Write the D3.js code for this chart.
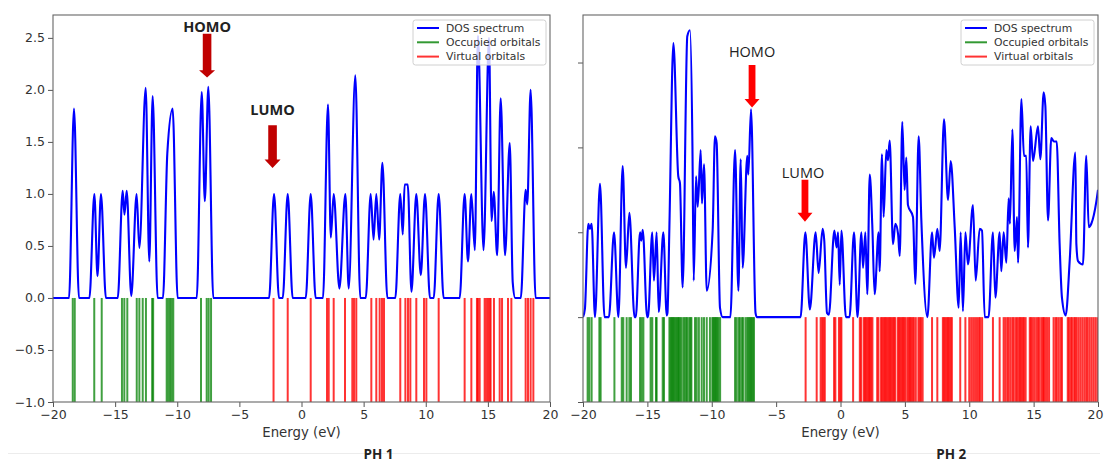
<!DOCTYPE html>
<html>
<head>
<meta charset="utf-8">
<script src="https://cdn.jsdelivr.net/npm/d3@7"></script>
<style>
body { margin: 0; background: #fff; }
svg { display: block; }
.tick text { font-family: "DejaVu Sans", sans-serif; font-size: 12.5px; fill: #333; }
.tick line { stroke: #555; }
</style>
</head>
<body>
<div id="figure"></div>
<script>
// energies in eV, DOS in arbitrary units
var xTicks = [-20, -15, -10, -5, 0, 5, 10, 15, 20];
var ph1YTicks = [-1.0, -0.5, 0.0, 0.5, 1.0, 1.5, 2.0, 2.5];
var ph2YTicks = [-1, 0, 1, 2, 3];
var legendLabels = ["DOS spectrum", "Occupied orbitals", "Virtual orbitals"];
var panelTitles = ["PH 1", "PH 2"];

var ph1Dos = [
    [-20, 0], [-18.71, 0], [-18.31, 1.82], [-17.91, 0],
    [-17.07, 0], [-16.67, 1], [-16.42, 0.21], [-16.14, 1], [-15.74, 0],
    [-14.79, 0], [-14.39, 1.03], [-14.25, 0.8], [-14.07, 1.03], [-13.7, 0.02], [-13.27, 1],
    [-13.05, 0.48], [-12.54, 2.02], [-12.25, 0.35], [-11.98, 1.94], [-11.58, 0],
    [-11.15, 0], [-10.8, 1.39], [-10.37, 1.82], [-9.97, 0],
    [-8.43, 0], [-8.03, 1.98], [-7.78, 0.93], [-7.5, 2.03], [-7.1, 0],
    [-2.61, 0], [-2.21, 1], [-1.81, 0], [-1.51, 0], [-1.11, 1], [-0.71, 0],
    [0.34, 0], [0.74, 1], [1.14, 0],
    [1.73, 0], [2.13, 1.86], [2.36, 0.58], [2.59, 1], [3.05, 0.09], [3.53, 1], [3.8, 0.09],
    [4.33, 2.14], [4.73, 0],
    [5.17, 0], [5.57, 1], [5.8, 0.56], [6.02, 1], [6.25, 0.56], [6.51, 1.3], [6.91, 0],
    [7.55, 0], [7.95, 1], [8.15, 0.61], [8.3, 1.09], [8.55, 1.09], [8.85, 0.06], [9.24, 1],
    [9.6, 0.22], [9.94, 1], [10.34, 0],
    [10.64, 0], [11.04, 1], [11.44, 0],
    [12.73, 0], [13.13, 1], [13.4, 0.35], [13.67, 1], [13.95, 0.46], [14.2, 2.52], [14.65, 0.46],
    [15.09, 2.5], [15.3, 0.74], [15.47, 1.02], [15.75, 0.41], [16.03, 1.92], [16.38, 0.41],
    [16.76, 1.49], [17.0, 0.15], [17.2, 0],
    [17.65, 0], [18.04, 1.04], [18.17, 0.9], [18.44, 2.0], [18.84, 0], [20, 0]
];
var ph1Occupied = [-18.41, -18.25, -16.68, -16.08, -14.45, -14.26, -14.02, -13.26, -13.05,
    -12.78, -12.52, -12.02, -11.94, -10.85, -10.72, -10.58, -10.45, -10.32, -8.09, -7.63,
    -7.47, -7.28];
var ph1Virtual = [-2.25, -1.11, 0.74, 2.05, 2.19, 2.59, 3.5, 4.09, 4.23, 4.41, 5.62, 6.02,
    6.29, 6.48, 6.64, 7.95, 8.36, 8.57, 8.76, 9.24, 9.86, 10.05, 11.04, 13.13, 13.67, 14.12,
    14.2, 14.34, 14.74, 14.87, 15.01, 15.15, 15.22, 15.49, 15.95, 16.14, 16.62, 16.89, 18.04,
    18.23, 18.44, 18.66];

var ph2Dos = [
    [-20, 0], [-19.85, 0.1], [-19.59, 1.1], [-19.46, 1.04], [-19.33, 1.1], [-19.07, 0],
    [-18.68, 1.57], [-18.33, 0], [-17.99, 0], [-17.59, 1.0], [-17.25, 0],
    [-16.92, 1.78], [-16.66, 0.58], [-16.4, 1.23], [-16.0, 0], [-15.9, 0],
    [-15.57, 1.0], [-15.47, 0.9], [-15.36, 1.03], [-15.02, 0], [-14.95, 0],
    [-14.62, 1.0], [-14.49, 0.43], [-14.28, 1.0], [-14.12, 0.06], [-13.76, 1.0], [-13.5, 0.02],
    [-13.44, 0.05], [-13.29, 1.06], [-12.98, 3.23], [-12.6, 1.66], [-12.47, 1.58], [-12.26, 0.35],
    [-11.9, 3.31], [-11.69, 3.38], [-11.5, 2.01], [-11.4, 0.43], [-11.22, 1.66], [-11.09, 1.3],
    [-10.86, 1.97], [-10.76, 1.34], [-10.6, 1.8], [-10.39, 0.31], [-9.93, 1.02], [-9.75, 2.13],
    [-9.62, 2.05], [-9.36, 0.11], [-9.15, 0], [-8.55, 0],
    [-8.19, 1.97], [-7.93, 0.31], [-7.75, 1.86], [-7.6, 0.58], [-7.24, 1.9], [-7.16, 1.68],
    [-6.95, 2.45], [-6.6, 0.05], [-6.5, 0], [-3.1, 0],
    [-2.73, 1.0], [-2.38, 0.09], [-1.93, 1.0], [-1.7, 0.52], [-1.39, 1.04], [-1.26, 0.9],
    [-1.05, 0.05], [-0.9, 0.03], [-0.48, 1.02], [-0.3, 0.82], [-0.19, 1.0], [-0.06, 0.38],
    [0.07, 1.02], [0.42, 0], [0.7, 0], [1.05, 1.0], [1.32, 0],
    [1.62, 1.0], [1.75, 0.58], [1.93, 1.0], [2.08, 0.27], [2.27, 1.68], [2.47, 1.08], [2.65, 0.27],
    [2.96, 1.0], [3.04, 0.54], [3.22, 1.92], [3.35, 1.18], [3.56, 1.97], [3.69, 1.85], [3.82, 2.08],
    [4.08, 0.86], [4.26, 1.1], [4.47, 0.98], [4.6, 0.72], [4.8, 2.3], [4.98, 1.5], [5.11, 1.88],
    [5.24, 1.32], [5.63, 1.18], [5.81, 0.39], [6.07, 2.13], [6.28, 1.14], [6.75, 0],
    [7.11, 1.0], [7.26, 0.7], [7.52, 1.04], [7.7, 0.78], [8.04, 2.33], [8.35, 1.38], [8.56, 1.84],
    [8.87, 1.06], [9.18, 0.11], [9.33, 1.0], [9.51, 0.07], [9.7, 1.0], [9.9, 0.62], [10.29, 1.32],
    [10.5, 0.43], [10.81, 1.04], [10.99, 1.02], [11.2, 0], [11.5, 0],
    [11.84, 1.0], [12.03, 0.23], [12.36, 1.0], [12.49, 0.54], [12.67, 1.0], [12.88, 0.64],
    [13.06, 1.4], [13.16, 1.1], [13.35, 2.21], [13.53, 0.78], [13.71, 1.18], [13.79, 0.64],
    [14.05, 2.57], [14.25, 1.9], [14.43, 1.9], [14.56, 0.82], [14.77, 2.25], [14.95, 1.84],
    [15.34, 2.25], [15.52, 1.86], [15.78, 2.65], [15.91, 2.49], [16.12, 1.14], [16.37, 2.11],
    [16.58, 2.07], [16.79, 2.07], [17.02, 0.86], [17.2, 0.23], [17.49, 0.02], [17.8, 0.66],
    [18.24, 1.94], [18.32, 0.86], [18.45, 0.66], [18.83, 0.62], [19.09, 1.9], [19.28, 1.06],
    [19.48, 1.1], [19.87, 1.36], [20, 1.5]
];
var ph2Occupied = [-19.64, -19.51, -19.33, -18.73, -18.63, -17.56, -16.99, -16.87, -16.61,
    -16.4, -16.27, -15.57, -15.44, -15.31, -14.75, -14.62, -14.33, -14.28, -13.81, -13.71,
    -13.29, -13.2, -13.12, -13.05, -12.97, -12.9, -12.8, -12.72, -12.62, -12.55, -12.45, -12.35,
    -12.2, -12.1, -11.98, -11.9, -11.75, -11.65, -11.58, -11.3, -11.17, -11.0, -10.78, -10.6,
    -10.39, -10.14, -9.96, -9.88, -9.8, -9.72, -9.65, -9.56, -9.48, -9.35, -8.19, -8.07, -7.91,
    -7.81, -7.65, -7.55, -7.37, -7.24, -7.15, -7.06, -6.98, -6.9, -6.82, -6.72];
var ph2Virtual = [-2.71, -1.85, -1.54, -1.42, -1.32, -1.22, -0.5, -0.4, -0.12, 0.0, 0.07, 0.98,
    1.5, 1.6, 1.8, 1.9, 2.0, 2.1, 2.2, 2.28, 2.38, 2.48, 2.85, 2.95, 3.15, 3.25, 3.35, 3.45, 3.55,
    3.65, 3.75, 3.85, 3.95, 4.05, 4.15, 4.25, 4.45, 4.55, 4.65, 4.75, 4.85, 4.95, 5.05, 5.2, 5.3,
    5.4, 5.5, 5.6, 5.7, 5.85, 6.05, 6.15, 6.25, 6.38, 7.11, 7.52, 7.95, 8.05, 8.15, 8.25, 8.35,
    8.45, 8.55, 8.65, 9.3, 9.7, 10.0, 10.15, 10.3, 10.45, 10.6, 10.75, 10.85, 11.0, 11.84, 12.36,
    12.67, 12.8, 12.95, 13.06, 13.2, 13.35, 13.45, 13.6, 13.71, 13.85, 13.95, 14.05, 14.15, 14.25,
    14.38, 14.7, 14.8, 14.92, 15.05, 15.2, 15.34, 15.45, 15.6, 15.72, 15.8, 15.92, 16.05, 16.2,
    16.55, 16.7, 16.8, 16.95, 17.1, 17.2, 17.65, 17.75, 17.9, 18.0, 18.15, 18.24, 18.35, 18.5,
    18.65, 18.8, 18.95, 19.09, 19.2, 19.35, 19.5, 19.65, 19.8, 19.95];

var width = 1104, height = 463;

var svg = d3.select("#figure").append("svg")
    .attr("width", width)
    .attr("height", height);

var panels = [
    {
        name: "ph1", left: 53, right: 550, top: 15, bottom: 402,
        yDomain: [-1, 2.72], yTicks: ph1YTicks, yLabels: true,
        dos: ph1Dos, occupied: ph1Occupied, virtual: ph1Virtual, title: panelTitles[0],
        arrowColor: "#c00000", labelWeight: "bold", shaft: 4.3, head: 8,
        notes: [
            {label: "HOMO", at: -7.6, text: 2.555, top: 2.54, neck: 2.19, tip: 2.12},
            {label: "LUMO", at: -2.33, text: 1.76, top: 1.66, neck: 1.33, tip: 1.25}
        ]
    },
    {
        name: "ph2", left: 583, right: 1098, top: 15, bottom: 402,
        yDomain: [-1, 3.56], yTicks: ph2YTicks, yLabels: false,
        dos: ph2Dos, occupied: ph2Occupied, virtual: ph2Virtual, title: panelTitles[1],
        arrowColor: "#ff0000", labelWeight: "normal", shaft: 3.4, head: 7.5,
        notes: [
            {label: "HOMO", at: -6.87, text: 3.07, top: 2.97, neck: 2.57, tip: 2.47},
            {label: "LUMO", at: -2.76, textAt: -2.91, text: 1.64, top: 1.62, neck: 1.23, tip: 1.125}
        ]
    }
];

// faint border line at the bottom of the original image
svg.append("line")
    .attr("x1", 8).attr("x2", width - 4)
    .attr("y1", 453.5).attr("y2", 453.5)
    .attr("stroke", "#ececec");

panels.forEach(drawPanel);

function drawPanel(p) {
    var x = d3.scaleLinear().domain([-20, 20]).range([p.left, p.right]);
    var y = d3.scaleLinear().domain(p.yDomain).range([p.bottom, p.top]);
    var g = svg.append("g").attr("class", p.name);

    svg.append("clipPath")
        .attr("id", "clip-" + p.name)
        .append("rect")
        .attr("x", p.left).attr("y", p.top)
        .attr("width", p.right - p.left).attr("height", p.bottom - p.top);

    var plot = g.append("g").attr("clip-path", "url(#clip-" + p.name + ")");

    // orbital sticks, from 0 down to -1
    plot.selectAll("line.occ")
        .data(p.occupied)
        .enter().append("line")
        .attr("class", "occ")
        .attr("x1", function(d) { return x(d); })
        .attr("x2", function(d) { return x(d); })
        .attr("y1", y(0)).attr("y2", y(-1))
        .attr("stroke", "#008000")
        .attr("stroke-width", 2)
        .attr("stroke-opacity", 0.75);

    plot.selectAll("line.virt")
        .data(p.virtual)
        .enter().append("line")
        .attr("class", "virt")
        .attr("x1", function(d) { return x(d); })
        .attr("x2", function(d) { return x(d); })
        .attr("y1", y(0)).attr("y2", y(-1))
        .attr("stroke", "#ff0000")
        .attr("stroke-width", 2)
        .attr("stroke-opacity", 0.8);

    var line = d3.line()
        .x(function(d) { return x(d[0]); })
        .y(function(d) { return y(d[1]); })
        .curve(d3.curveMonotoneX);

    plot.append("path")
        .datum(p.dos)
        .attr("d", line)
        .attr("fill", "none")
        .attr("stroke", "#0000ff")
        .attr("stroke-width", 2.1)
        .attr("stroke-linejoin", "round");

    // axes
    var xAxis = d3.axisBottom(x)
        .tickValues(xTicks)
        .tickFormat(d3.format("d"))
        .tickSize(5).tickSizeOuter(0).tickPadding(3);
    var xg = g.append("g")
        .attr("transform", "translate(0," + p.bottom + ")")
        .call(xAxis)
        .call(function(s) { s.select(".domain").remove(); });
    // keep the last label inside the window
    if (p.right > width - 10) {
        xg.selectAll(".tick text")
            .filter(function(d) { return d == 20; })
            .attr("dx", -3);
    }

    var yAxis = d3.axisLeft(y)
        .tickValues(p.yTicks)
        .tickFormat(p.yLabels ? d3.format(".1f") : "")
        .tickSize(5).tickSizeOuter(0).tickPadding(3);
    g.append("g")
        .attr("transform", "translate(" + p.left + ",0)")
        .call(yAxis)
        .call(function(s) { s.select(".domain").remove(); });

    g.append("rect")
        .attr("x", p.left).attr("y", p.top)
        .attr("width", p.right - p.left).attr("height", p.bottom - p.top)
        .attr("fill", "none")
        .attr("stroke", "#666")
        .attr("stroke-width", 1.1);

    // HOMO / LUMO arrows
    p.notes.forEach(function(n) {
        var cx = x(n.at), yt = y(n.top), yn = y(n.neck), yp = y(n.tip);
        g.append("path")
            .attr("d", "M" + (cx - p.shaft) + "," + yt + "L" + (cx + p.shaft) + "," + yt +
                "L" + (cx + p.shaft) + "," + yn + "L" + (cx + p.head) + "," + yn +
                "L" + cx + "," + yp + "L" + (cx - p.head) + "," + yn +
                "L" + (cx - p.shaft) + "," + yn + "Z")
            .attr("fill", p.arrowColor);
        g.append("text")
            .attr("x", x(n.textAt !== undefined ? n.textAt : n.at))
            .attr("y", y(n.text))
            .attr("text-anchor", "middle")
            .attr("font-family", "'Open Sans', 'Liberation Sans', sans-serif")
            .attr("font-size", "14.5px")
            .attr("font-weight", p.labelWeight)
            .attr("fill", "#222")
            .text(n.label);
    });

    // legend
    var lw = 133, lh = 45;
    var lg = g.append("g")
        .attr("transform", "translate(" + (p.right - 4 - lw) + "," + (p.top + 5) + ")");
    lg.append("rect")
        .attr("width", lw).attr("height", lh)
        .attr("rx", 2.5)
        .attr("fill", "#fff").attr("fill-opacity", 0.8)
        .attr("stroke", "#d0d0d0");
    var legendColors = ["#0000ff", "#008000", "#ff0000"];
    legendLabels.forEach(function(label, i) {
        var ly = 8 + i * 14.3;
        lg.append("line")
            .attr("x1", 4).attr("x2", 26)
            .attr("y1", ly).attr("y2", ly)
            .attr("stroke", legendColors[i])
            .attr("stroke-width", 2)
            .attr("stroke-opacity", i == 0 ? 1 : 0.8);
        lg.append("text")
            .attr("x", 33).attr("y", ly + 3.8)
            .attr("font-family", "'DejaVu Sans', sans-serif")
            .attr("font-size", "10.8px")
            .attr("fill", "#333")
            .text(label);
    });

    // axis label and panel title
    var mid = (p.left + p.right) / 2;
    g.append("text")
        .attr("x", mid).attr("y", 437)
        .attr("text-anchor", "middle")
        .attr("font-family", "'DejaVu Sans', sans-serif")
        .attr("font-size", "13.3px")
        .attr("fill", "#333")
        .text("Energy (eV)");
    g.append("text")
        .attr("x", x(p.name == "ph1" ? 6.2 : 8.6)).attr("y", 459)
        .attr("text-anchor", "middle")
        .attr("font-family", "'Open Sans', 'Liberation Sans', sans-serif")
        .attr("font-size", "13.5px")
        .attr("font-weight", "bold")
        .attr("fill", "#222")
        .text(p.title);
}
</script>
</body>
</html>
